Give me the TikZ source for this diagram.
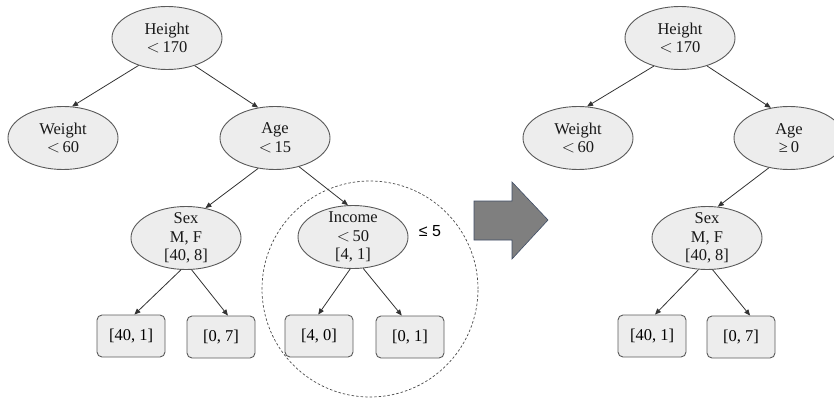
\documentclass[tikz,border=0pt]{standalone}
\usepackage{fontspec}
\setmainfont{Liberation Serif}
\newfontfamily\sansf{Liberation Sans}
\usetikzlibrary{shapes.geometric,arrows.meta}
\definecolor{nodefill}{HTML}{EDEDED}
\definecolor{nodeline}{HTML}{5A5A5A}
\definecolor{edgecol}{HTML}{333333}
\definecolor{arrfill}{HTML}{7F7F7F}
\definecolor{arrline}{HTML}{3F4D66}
\tikzset{
  ell/.style={ellipse, draw=nodeline, fill=nodefill, line width=0.9pt,
    minimum width=110pt, minimum height=63pt, inner sep=0pt},
  txt/.style={font=\fontsize{16.5}{18.5}\selectfont, align=center, inner sep=0pt, text=black!90},
  leaf/.style={rectangle, rounded corners=5pt, draw=nodeline, fill=nodefill, line width=0.9pt,
    minimum width=68pt, minimum height=42pt, inner sep=0pt, font=\fontsize{16.5}{18.5}\selectfont},
  edge/.style={draw=edgecol, line width=0.8pt, -{Triangle[length=6pt,width=5pt]}},
  region/.style={draw=black!70, line width=0.7pt, dash pattern=on 2.5pt off 2pt},
  bigarrow/.style={fill=arrfill, draw=arrline, line width=0.6pt}
}
\begin{document}
\begin{tikzpicture}[x=1pt,y=-1pt]
\useasboundingbox (0,0) rectangle (834,398);
\clip (0,0) rectangle (834,398);
% ---------- left tree ----------
\node[ell, label={[txt]center:{Height\\${<}$\,170}}] (H) at (167,38) {};
\node[ell, label={[txt]center:{Weight\\${<}$\,60}}] (W) at (63,138) {};
\node[ell, label={[txt]center:{Age\\${<}$\,15}}] (A) at (275,138) {};
\node[ell, label={[txt]center:{Sex\\M, F\\{[40, 8]}}}] (S) at (186,238) {};
\node[ell, label={[txt]center:{Income\\${<}$\,50\\{[4, 1]}}}] (I) at (353,237) {};
\node[leaf] (b1) at (131,336) {[40, 1]};
\node[leaf] (b2) at (221,337) {[0, 7]};
\node[leaf] (b3) at (319,336) {[4, 0]};
\node[leaf] (b4) at (410,337) {[0, 1]};
\draw[edge] (H.224) -- (W.74);
\draw[edge] (H.315) -- (A.119);
\draw[edge] (A.241) -- (S.57);
\draw[edge] (A.310) -- (I.99);
\draw[edge] (S.261) -- (b1.81);
\draw[edge] (S.280) -- (b2.72);
\draw[edge] (I.265) -- (b3.92);
\draw[edge] (I.288) -- (b4.111);
% pruned region
\node[circle, region, minimum size=216pt, inner sep=0pt] (R) at (370,289) {};
\node[font=\sansf\fontsize{16}{18}\selectfont, inner sep=0pt] (le) at (430,231) {≤ 5};
% ---------- block arrow ----------
\draw[bigarrow] (474,201) -- (512,201) -- (512,182) -- (548,220) -- (512,259) -- (512,240) -- (474,240) -- cycle;
% ---------- right tree ----------
\node[ell, label={[txt]center:{Height\\${<}$\,170}}] (H2) at (680,38) {};
\node[ell, label={[txt]center:{Weight\\${<}$\,60}}] (W2) at (578,138) {};
\node[ell, label={[txt]center:{Age\\≥\,0}}] (A2) at (789,138) {};
\node[ell, label={[txt]center:{Sex\\M, F\\{[40, 8]}}}] (S2) at (707,238) {};
\node[leaf] (c1) at (652,336) {[40, 1]};
\node[leaf] (c2) at (741,337) {[0, 7]};
\draw[edge] (H2.227) -- (W2.74);
\draw[edge] (H2.314) -- (A2.121);
\draw[edge] (A2.236) -- (S2.71);
\draw[edge] (S2.255) -- (c1.82);
\draw[edge] (S2.280) -- (c2.67);
\end{tikzpicture}
\end{document}
